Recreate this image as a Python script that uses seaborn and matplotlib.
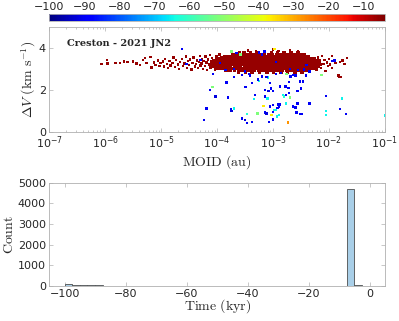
import numpy as np
import matplotlib
matplotlib.use('Agg')
import matplotlib.pyplot as plt
import seaborn as sns

# scatter: red main cloud (log10 MOID, dV), time ~ -6 kyr
tail_logmoid = [-6.07, -5.97, -5.96, -5.82, -5.74, -5.66, -5.60, -5.50, -5.44, -5.38, -5.33, -5.29,
                -5.26, -5.19, -5.17, -5.13, -5.10, -5.06, -5.03, -5.01,
                -4.97, -4.95, -4.93, -4.90, -4.88, -4.85, -4.83, -4.80, -4.78, -4.75, -4.73, -4.70,
                -4.68, -4.66, -4.63, -4.61, -4.58, -4.56, -4.54, -4.52, -4.50, -4.48, -4.46, -4.44,
                -4.42, -4.40, -4.38, -4.36, -4.34, -4.32, -4.31, -4.30,
                -4.28, -4.27, -4.25, -4.24, -4.22, -4.21, -4.19, -4.18, -4.16, -4.15, -4.13, -4.12,
                -4.10, -4.09, -4.07, -4.06, -4.04, -4.03, -4.01, -4.00, -3.98, -3.97, -3.96, -3.94,
                -3.93, -3.92, -3.91, -3.90,
                -2.28, -2.26, -2.24, -2.22, -2.20, -2.18, -2.16, -2.14, -2.12, -2.10, -2.08, -2.06,
                -2.04, -2.02, -2.00, -1.98, -1.95, -1.92, -1.88, -1.82, -1.80, -1.76, -1.72, -1.68,
                -1.95, -3.00, -2.90, -3.30, -3.60, -2.70, -2.55, -3.45, -1.78, -1.83]
tail_dv = [3.24, 3.44, 3.28, 3.31, 3.30, 3.36, 3.34, 3.37, 3.27, 3.21, 3.45, 3.53,
           3.30, 3.57, 3.08, 3.33, 3.20, 3.42, 3.15, 3.30,
           3.36, 3.12, 3.48, 3.25, 3.05, 3.40, 3.18, 3.30, 3.55, 3.10, 3.44, 3.22,
           3.02, 3.34, 3.50, 3.15, 3.28, 3.60, 3.07, 3.38, 3.20, 3.47, 2.98, 3.31,
           3.56, 3.12, 3.25, 3.42, 3.05, 3.35, 3.64, 3.18,
           3.28, 3.50, 3.02, 3.40, 3.15, 3.60, 3.32, 2.95, 3.46, 3.22, 3.68, 3.08,
           3.36, 3.54, 3.18, 3.42, 2.98, 3.30, 3.62, 3.12, 3.48, 3.25, 3.70, 3.05,
           3.38, 3.56, 3.20, 3.44,
           3.10, 3.45, 3.28, 2.98, 3.55, 3.18, 3.38, 3.05, 3.62, 3.25, 3.45, 2.92,
           3.32, 3.15, 3.50, 3.22, 3.05, 3.38, 3.30, 2.65, 3.35, 3.41, 3.25, 3.53,
           3.62, 3.95, 3.88, 3.85, 3.82, 3.90, 3.84, 3.90, 2.62, 2.70]

# dense core of the cloud, one list of log10 MOID per dV row
core_dv = [2.86, 2.95, 3.04, 3.13, 3.22, 3.31, 3.40, 3.49, 3.58, 3.67, 3.76]
core_logmoid = [
    [-3.62, -3.49, -3.37, -3.24, -3.11, -2.99, -2.86, -2.74, -2.61, -2.48],
    [-3.84, -3.77, -3.69, -3.62, -3.55, -3.47, -3.41, -3.33, -3.26, -3.19, -3.12, -3.04, -2.98,
     -2.91, -2.83, -2.76, -2.70, -2.62, -2.55, -2.48, -2.41, -2.35],
    [-4.02, -3.96, -3.90, -3.85, -3.79, -3.72, -3.66, -3.61, -3.54, -3.48, -3.43, -3.36, -3.30,
     -3.24, -3.18, -3.12, -3.07, -3.00, -2.94, -2.88, -2.82, -2.76, -2.71, -2.64, -2.58, -2.52,
     -2.46, -2.40, -2.34, -2.29, -2.23],
    [-4.06, -4.00, -3.94, -3.88, -3.82, -3.76, -3.69, -3.63, -3.58, -3.51, -3.45, -3.39, -3.33,
     -3.27, -3.21, -3.15, -3.09, -3.03, -2.97, -2.91, -2.85, -2.79, -2.73, -2.67, -2.61, -2.55,
     -2.49, -2.43, -2.37, -2.31, -2.25, -2.19],
    [-4.09, -4.03, -3.97, -3.91, -3.84, -3.78, -3.73, -3.67, -3.60, -3.55, -3.49, -3.42, -3.37,
     -3.31, -3.25, -3.19, -3.13, -3.06, -3.01, -2.95, -2.89, -2.83, -2.77, -2.70, -2.65, -2.59,
     -2.53, -2.47, -2.41, -2.35, -2.28, -2.22, -2.16],
    [-4.07, -4.01, -3.95, -3.89, -3.83, -3.77, -3.70, -3.64, -3.57, -3.52, -3.46, -3.40, -3.34,
     -3.28, -3.22, -3.16, -3.10, -3.04, -2.98, -2.92, -2.86, -2.80, -2.74, -2.68, -2.62, -2.56,
     -2.50, -2.44, -2.38, -2.32, -2.26, -2.20],
    [-4.05, -3.98, -3.90, -3.85, -3.78, -3.72, -3.66, -3.61, -3.54, -3.48, -3.43, -3.36, -3.30,
     -3.25, -3.18, -3.12, -3.07, -3.01, -2.94, -2.88, -2.83, -2.76, -2.71, -2.64, -2.59, -2.52,
     -2.46, -2.40, -2.34, -2.29, -2.23, -2.17],
    [-4.00, -3.94, -3.88, -3.82, -3.76, -3.70, -3.63, -3.57, -3.51, -3.46, -3.39, -3.34, -3.27,
     -3.22, -3.15, -3.10, -3.03, -2.98, -2.91, -2.86, -2.79, -2.74, -2.67, -2.62, -2.55, -2.50,
     -2.43, -2.38, -2.32, -2.26],
    [-3.86, -3.80, -3.73, -3.66, -3.60, -3.53, -3.47, -3.41, -3.35, -3.29, -3.23, -3.17, -3.11,
     -3.05, -2.99, -2.93, -2.87, -2.81, -2.75, -2.69, -2.63, -2.57, -2.51, -2.45, -2.38],
    [-3.72, -3.64, -3.57, -3.50, -3.43, -3.36, -3.29, -3.22, -3.15, -3.08, -3.01, -2.94, -2.87,
     -2.80, -2.73, -2.66, -2.59, -2.52, -2.45],
    [-3.52, -3.40, -3.27, -3.15, -3.03, -2.92, -2.80, -2.68, -2.55],
]
cloud_time = -6

# scattered points with older times (coloured)
out_logmoid = [-4.63, -4.07, -4.08, -4.13, -4.03, -4.19, -4.23, -3.83, -3.81, -3.75, -3.74, -3.70,
               -3.56, -3.50, -3.47, -3.46, -3.38, -3.74, -3.70, -3.56, -3.43, -3.41, -3.49, -3.38,
               -3.34, -3.25, -3.27, -3.20, -3.09, -3.12, -3.05, -3.04, -3.14, -3.08, -3.32, -3.14,
               -3.10, -3.05, -3.17, -3.00, -3.00, -3.14, -3.03, -3.12, -2.95, -3.07, -3.00, -3.28,
               -2.97, -2.95, -2.86, -2.76, -2.69, -2.71, -2.64, -2.60, -2.46, -2.52, -2.41, -2.35,
               -2.13, -3.00, -2.88, -2.78, -2.72, -2.82, -2.80, -2.77, -2.71, -2.70, -2.56, -2.50,
               -2.91, -2.87, -2.89, -2.98, -2.92, -2.64, -2.60, -2.77, -2.56, -2.35, -2.89, -2.93,
               -2.58, -2.51, -2.48, -2.73, -2.05, -1.77, -1.80, -1.70, -2.05, -2.05, -1.00, -1.95,
               -1.90, -4.55, -4.30, -3.95, -3.65, -3.58, -3.25, -3.15, -3.20, -2.95, -2.70, -2.40,
               -2.55, -2.45, -3.50, -3.70, -3.85]
out_dv = [3.96, 2.78, 2.14, 2.01, 1.69, 1.13, 0.57, 2.36, 1.64, 1.10, 1.00, 1.13,
          0.65, 0.57, 0.42, 0.85, 0.49, 3.84, 2.62, 2.73, 2.76, 2.70, 2.14, 2.33,
          1.58, 2.44, 2.50, 2.65, 2.60, 2.62, 2.33, 2.08, 2.00, 1.95, 1.77, 1.69,
          1.60, 1.21, 1.24, 1.29, 0.95, 0.94, 0.81, 0.88, 1.05, 0.49, 0.60, 0.89,
          3.96, 2.76, 2.81, 2.76, 2.65, 2.38, 2.73, 2.70, 2.41, 2.41, 2.69, 2.89,
          2.73, 1.96, 2.17, 2.17, 2.10, 1.77, 1.70, 1.77, 1.86, 1.64, 1.96, 2.08,
          1.32, 1.32, 1.22, 1.05, 1.15, 1.21, 1.18, 1.37, 1.37, 1.37, 0.81, 0.75,
          0.94, 0.85, 0.85, 0.45, 1.72, 1.61, 1.09, 0.85, 0.81, 1.00, 0.78, 3.40,
          3.42, 3.25, 3.45, 3.30, 3.78, 3.70, 3.80, 3.85, 3.70, 3.35, 3.00, 3.20,
          2.95, 2.98, 2.90, 3.00, 2.95]
out_time = [-90, -90, -52, -90, -92, -90, -90, -90, -90, -90, -92, -65,
            -90, -92, -90, -62, -90, -52, -90, -90, -90, -90, -90, -90,
            -65, -65, -90, -90, -65, -90, -90, -90, -90, -92, -90, -90,
            -65, -90, -37, -90, -90, -90, -37, -92, -65, -90, -90, -52,
            -37, -90, -90, -52, -90, -90, -90, -90, -90, -90, -90, -90,
            -52, -90, -90, -90, -90, -65, -62, -90, -90, -52, -90, -90,
            -90, -90, -90, -65, -90, -90, -90, -65, -90, -90, -65, -65,
            -90, -90, -90, -28, -90, -65, -90, -90, -65, -65, -65, -90,
            -90, -90, -90, -90, -90, -52, -90, -90, -90, -90, -90, -90,
            -90, -90, -90, -90, -90]

# histogram of times (bins of 2.5 kyr from -100 to 0)
hist_edges = [-100 + 2.5 * i for i in range(41)]
hist_counts = [80, 35, 25, 30, 30, 8, 5, 4, 3, 3, 2, 2, 3, 2, 2, 2, 3, 2, 2, 3,
               2, 2, 2, 1, 2, 2, 2, 1, 2, 2, 2, 1, 2, 2, 2, 3, 4, 4680, 30, 0]

plt.rcParams['mathtext.fontset'] = 'cm'
sns.set_style('ticks')
plt.rcParams['font.family'] = ['DejaVu Sans']
plt.rcParams['xtick.direction'] = 'in'
plt.rcParams['ytick.direction'] = 'in'

core_x, core_y = [], []
for dv, row in zip(core_dv, core_logmoid):
    core_x += row
    core_y += [dv] * len(row)

fig = plt.figure(figsize=(3.99, 3.21), dpi=100)
cax = fig.add_axes([0.1236, 0.9355, 0.841, 0.02])
ax1 = fig.add_axes([0.1236, 0.5888, 0.841, 0.326])
ax2 = fig.add_axes([0.1236, 0.109, 0.841, 0.322])

tick_col = '#262626'
spine_col = '#b0b0b0'
jet = matplotlib.colormaps['jet']
norm = matplotlib.colors.Normalize(vmin=-100, vmax=-4)

# dense core drawn with bigger marks so it reads solid, like the reference
sns.scatterplot(x=[10 ** v for v in core_x], y=core_y, hue=[cloud_time] * len(core_x),
                palette=jet, hue_norm=norm, legend=False, marker='s', s=7, linewidth=0, ax=ax1)
sns.scatterplot(x=[10 ** v for v in tail_logmoid], y=tail_dv, hue=[cloud_time] * len(tail_dv),
                palette=jet, hue_norm=norm, legend=False, marker='s', s=3, linewidth=0, ax=ax1)
sns.scatterplot(x=[10 ** v for v in out_logmoid], y=out_dv, hue=out_time,
                palette=jet, hue_norm=norm, legend=False, marker='s', s=3, linewidth=0, ax=ax1)
ax1.set_xscale('log')
ax1.set_xlim(1e-7, 1e-1)
ax1.set_ylim(0, 5)
ax1.set_yticks([0, 2, 4])
ax1.set_xlabel(r'$\mathrm{MOID\ (au)}$', fontsize=10)
ax1.set_ylabel(r'$\Delta V\ \mathrm{(km\ s^{-1})}$', fontsize=10)
ax1.xaxis.set_label_coords(0.5, -0.2)
ax1.yaxis.set_label_coords(-0.033, 0.5)
ax1.text(0.054, 0.85, 'Creston - 2021 JN2', transform=ax1.transAxes,
         fontsize=7, va='center', family='DejaVu Serif', weight='bold')

# colorbar on top
sm = matplotlib.cm.ScalarMappable(norm=norm, cmap=jet)
cb = fig.colorbar(sm, cax=cax, orientation='horizontal')
cb.set_ticks([-100, -90, -80, -70, -60, -50, -40, -30, -20, -10])
cax.xaxis.set_ticks_position('top')
cax.xaxis.set_label_position('top')
cax.tick_params(axis='x', direction='in', length=2, width=0.5, labelsize=8,
                colors=tick_col, pad=2)
cb.outline.set_edgecolor(spine_col)
cb.outline.set_linewidth(0.6)

sns.histplot(x=[e + 1.25 for e in hist_edges[:-1]], weights=hist_counts, bins=hist_edges,
             color='#a9cfe8', edgecolor='#4d4d4d', linewidth=0.6, alpha=1, ax=ax2)
ax2.set_xlim(-105, 5)
ax2.set_ylim(0, 5000)
ax2.set_xticks([-100, -80, -60, -40, -20, 0])
ax2.set_yticks([0, 1000, 2000, 3000, 4000, 5000])
ax2.set_xlabel(r'$\mathrm{Time\ (kyr)}$', fontsize=10)
ax2.set_ylabel(r'$\mathrm{Count}$', fontsize=10)
ax2.xaxis.set_label_coords(0.5, -0.11)
ax2.yaxis.set_label_coords(-0.1, 0.5)

for ax in (ax1, ax2):
    for sp in ax.spines.values():
        sp.set_visible(True)
        sp.set_color(spine_col)
        sp.set_linewidth(0.6)
    ax.tick_params(which='both', top=True, right=True, direction='in', width=0.5,
                   colors=spine_col, labelcolor=tick_col, labelsize=8)
    ax.tick_params(which='major', length=3)
    ax.tick_params(which='minor', length=1.5)
    ax.tick_params(axis='x', pad=2)
    ax.tick_params(axis='y', pad=2.5)

fig.savefig('out.png', dpi=100)
